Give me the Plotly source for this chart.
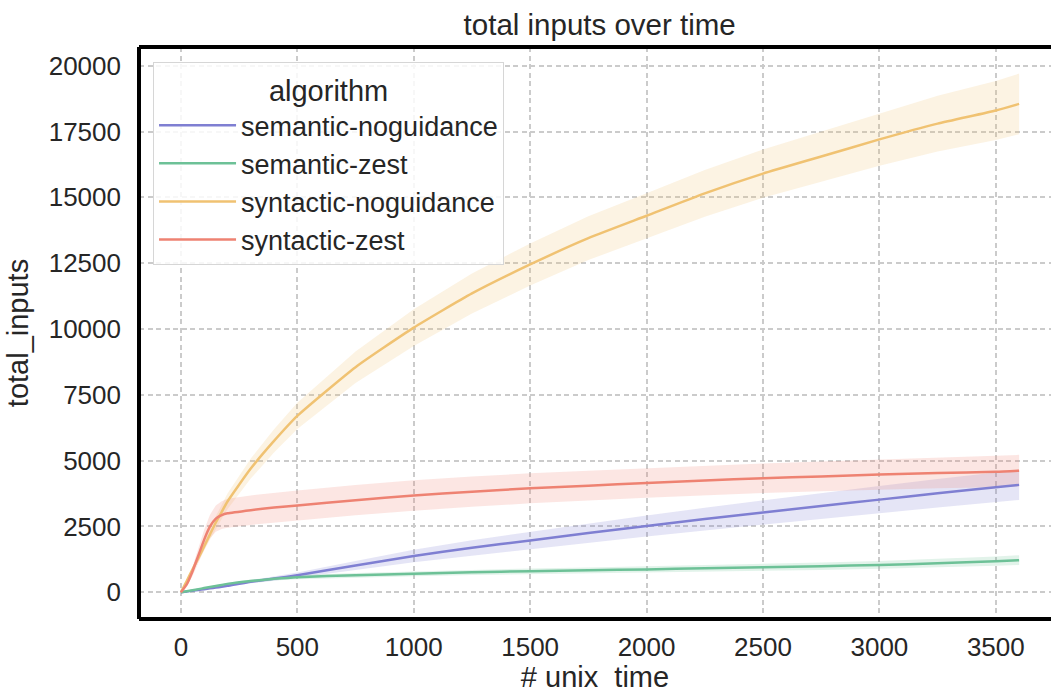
import plotly.graph_objects as go

# time points (seconds)
t = [0, 25, 50, 75, 100, 125, 150, 175, 200, 300, 400, 500, 750, 1000, 1250,
     1500, 1750, 2000, 2250, 2500, 2750, 3000, 3250, 3500, 3600]

sem_nog_mean = [0, 30, 60, 90, 120, 150, 180, 210, 245, 400, 520, 650, 1020, 1380, 1690,
                1970, 2250, 2520, 2780, 3030, 3280, 3520, 3760, 3990, 4080]
sem_nog_half = [0, 5, 10, 15, 20, 25, 30, 35, 40, 60, 80, 100, 170, 240, 290,
                330, 370, 400, 430, 460, 490, 520, 540, 560, 570]

sem_zest_mean = [0, 40, 80, 120, 160, 200, 240, 280, 320, 430, 510, 575, 650, 700, 760,
                 800, 835, 870, 910, 950, 990, 1040, 1100, 1180, 1220]
sem_zest_half = [0, 5, 10, 15, 20, 25, 30, 35, 40, 55, 65, 75, 85, 95, 100,
                 105, 110, 115, 120, 130, 140, 150, 160, 175, 185]

syn_nog_mean = [0, 430, 870, 1300, 1750, 2200, 2650, 3050, 3450, 4700, 5750, 6700, 8550, 10050, 11350,
                12450, 13450, 14300, 15150, 15900, 16550, 17200, 17800, 18300, 18550]
syn_nog_half = [0, 40, 80, 120, 160, 200, 240, 270, 300, 380, 440, 500, 600, 700, 760,
                800, 830, 860, 890, 920, 960, 1000, 1060, 1120, 1150]

syn_zest_mean = [0, 300, 800, 1400, 2000, 2500, 2800, 2930, 3000, 3120, 3220, 3300, 3500, 3680, 3820,
                 3950, 4050, 4150, 4250, 4330, 4400, 4470, 4530, 4580, 4620]
syn_zest_half = [0, 80, 180, 280, 380, 450, 500, 530, 550, 560, 565, 570, 575, 580, 575,
                 570, 565, 560, 560, 560, 565, 570, 580, 590, 600]

names = ["semantic-noguidance", "semantic-zest", "syntactic-noguidance", "syntactic-zest"]
colors = ["#7f7fd2", "#6dc197", "#f0c272", "#ee8272"]
bands = ["rgba(127,127,210,0.2)", "rgba(109,193,151,0.2)",
         "rgba(240,194,114,0.2)", "rgba(238,130,114,0.2)"]
means = [sem_nog_mean, sem_zest_mean, syn_nog_mean, syn_zest_mean]
halves = [sem_nog_half, sem_zest_half, syn_nog_half, syn_zest_half]

x_ticks = [0, 500, 1000, 1500, 2000, 2500, 3000, 3500]
y_ticks = [0, 2500, 5000, 7500, 10000, 12500, 15000, 17500, 20000]

fig = go.Figure()
for name, col, band, m, h in zip(names, colors, bands, means, halves):
    upper = [a + b for a, b in zip(m, h)]
    lower = [a - b for a, b in zip(m, h)]
    fig.add_trace(go.Scatter(
        x=t + t[::-1], y=upper + lower[::-1], fill="toself", fillcolor=band,
        line=dict(width=0), mode="lines", showlegend=False, hoverinfo="skip",
        legendgroup=name))
for name, col, m in zip(names, colors, means):
    fig.add_trace(go.Scatter(x=t, y=m, mode="lines", name=name, legendgroup=name,
                             line=dict(color=col, width=2.5, shape="spline", smoothing=0.5)))

font_family = "Liberation Sans, Arial, sans-serif"
grid_dash = "5px,3.5px"
fig.update_layout(
    width=1051, height=693,
    margin=dict(l=139, r=0, t=47, b=74),
    paper_bgcolor="white", plot_bgcolor="white",
    font=dict(family=font_family, size=26, color="#262626"),
    title=dict(text="total inputs over time", x=0.5706, xanchor="center",
               y=0.965, yanchor="middle", font=dict(size=29.5, color="#262626")),
    legend=dict(
        x=0.0154, y=0.973, xanchor="left", yanchor="top",
        bgcolor="rgba(255,255,255,0.85)", bordercolor="#d6d6d6", borderwidth=1,
        title=dict(text="algorithm", side="top center", font=dict(size=29)),
        font=dict(size=27), tracegroupgap=0, traceorder="grouped", itemwidth=77,
    ),
    xaxis=dict(
        range=[-180, 3737], tickvals=x_ticks, ticktext=[str(v) for v in x_ticks],
        ticks="", ticklabelstandoff=10,
        showgrid=True, gridcolor="#cbcbcb", griddash=grid_dash, gridwidth=1.5,
        zeroline=False, showline=False,
        title=dict(text="# unix  time", font=dict(size=29), standoff=9),
        tickfont=dict(size=26),
    ),
    yaxis=dict(
        range=[-1014, 20710], tickvals=y_ticks, ticktext=[str(v) for v in y_ticks],
        ticks="", ticklabelstandoff=17,
        showgrid=True, gridcolor="#cbcbcb", griddash=grid_dash, gridwidth=1.5,
        zeroline=False, showline=False,
        title=dict(text="total_inputs", font=dict(size=29), standoff=11),
        tickfont=dict(size=26),
    ),
)
# frame: left, top, bottom thick black lines
for x0, y0, x1, y1 in [(0, 0, 0, 1), (0, 1, 1.02, 1), (0, 0, 1.02, 0)]:
    fig.add_shape(type="line", xref="paper", yref="paper", x0=x0, y0=y0, x1=x1, y1=y1,
                  line=dict(color="black", width=4), layer="above")

fig.write_html("out.html")
